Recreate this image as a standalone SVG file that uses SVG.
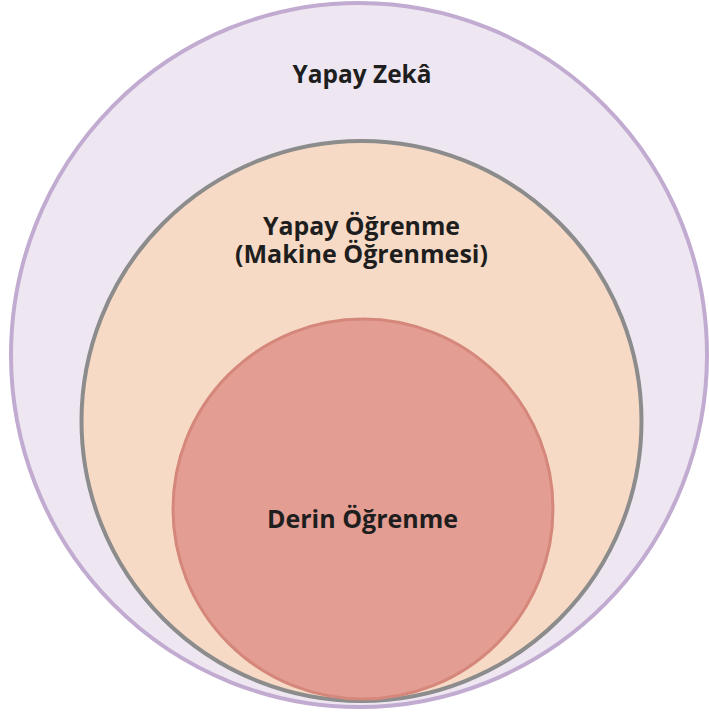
<svg xmlns="http://www.w3.org/2000/svg" width="709" height="712" viewBox="0 0 709 712">
<style>
.lbl{font-family:"Open Sans","Liberation Sans",sans-serif;font-weight:bold;font-size:25px;fill:#1e1e1e;text-anchor:middle}
</style>
<rect width="709" height="712" fill="#ffffff"/>
<g id="yapay-zeka">
<ellipse cx="359" cy="355" rx="348" ry="352" fill="#EEE7F2" stroke="#C2ABD1" stroke-width="4"/>
<text class="lbl" x="362" y="83" textLength="139" lengthAdjust="spacingAndGlyphs">Yapay Zekâ</text>
</g>
<g id="yapay-ogrenme">
<circle cx="361.5" cy="421" r="280" fill="#F7DAC5" stroke="#8C8C8C" stroke-width="4"/>
<text class="lbl" x="361.5" y="235" textLength="197" lengthAdjust="spacingAndGlyphs">Yapay Öğrenme</text>
<text class="lbl" x="361.5" y="263" textLength="253" lengthAdjust="spacingAndGlyphs">(Makine Öğrenmesi)</text>
</g>
<g id="derin-ogrenme">
<circle cx="363" cy="509" r="190" fill="#E39D92" stroke="#D4877A" stroke-width="3"/>
<text class="lbl" x="362.5" y="528" textLength="191" lengthAdjust="spacingAndGlyphs">Derin Öğrenme</text>
</g>
<g id="connectors"/>
</svg>
